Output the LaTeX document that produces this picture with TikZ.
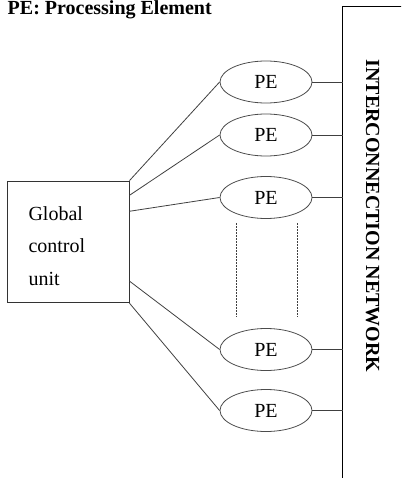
\documentclass[tikz,border=0pt]{standalone}
\usepackage{fontspec}
\setmainfont{Liberation Serif}
\usetikzlibrary{shapes.geometric,calc}

\begin{document}
\begin{tikzpicture}[x=1pt,y=-1pt]
	\tikzstyle{Link} = [draw=black!75,line width=0.8pt]
	\tikzstyle{PEnode} = [ellipse,draw=black!70,line width=0.8pt,minimum width=92pt,minimum height=42pt,inner sep=0pt,font=\fontsize{20}{24}\selectfont]
	\tikzstyle{Big} = [font=\fontsize{20}{32.5}\selectfont\bfseries,inner sep=0pt]
	\useasboundingbox (0,0) rectangle (401,478);
	\clip (0,0) rectangle (401,478);
	% title and network
	\node[Big,anchor=base west] (title) at (7.5,14.5) {PE: Processing Element};
	\coordinate (net) at (342.5,7);
	\draw[line width=1pt] (410,7) -- (net) -- (342.5,490);
	\node[Big,rotate=-90] (netlabel) at (372.5,216) {INTERCONNECTION NETWORK};
	% control unit
	\node[draw=black!80,line width=0.8pt,minimum width=121.3pt,minimum height=121.7pt,inner sep=0pt] (gcu) at (68.4,241.9) {};
	\node[anchor=north west,align=left,inner sep=0pt,font=\fontsize{20}{32.5}\selectfont] (gcutext) at (28.3,206.3) {Global\\control\\unit};
	% processing elements
	\node[PEnode] (pe1) at (266,82) {PE};
	\node[PEnode] (pe2) at (266,135) {PE};
	\node[PEnode] (pe3) at (266,197.5) {PE};
	\node[PEnode] (pe4) at (266,349.5) {PE};
	\node[PEnode] (pe5) at (266,410.5) {PE};
	\draw[Link] (gcu.north east) -- (pe1.west);
	\draw[Link] ($(gcu.north east)!0.12!(gcu.south east)$) -- (pe2.west);
	\draw[Link] ($(gcu.north east)!0.25!(gcu.south east)$) -- (pe3.west);
	\draw[Link] ($(gcu.north east)!0.82!(gcu.south east)$) -- (pe4.west);
	\draw[Link] (gcu.south east) -- (pe5.west);
	\foreach \p in {pe1,pe2,pe3,pe4,pe5}
		\draw[Link] (\p.east) -- (\p.east -| net);
	% dots between the elements
	\draw[black!75,line width=0.8pt,dash pattern=on 1.5pt off 1.5pt] (236,223) -- (236,317);
	\draw[black!75,line width=0.8pt,dash pattern=on 1.5pt off 1.5pt] (297,223) -- (297,317);
\end{tikzpicture}
\end{document}
